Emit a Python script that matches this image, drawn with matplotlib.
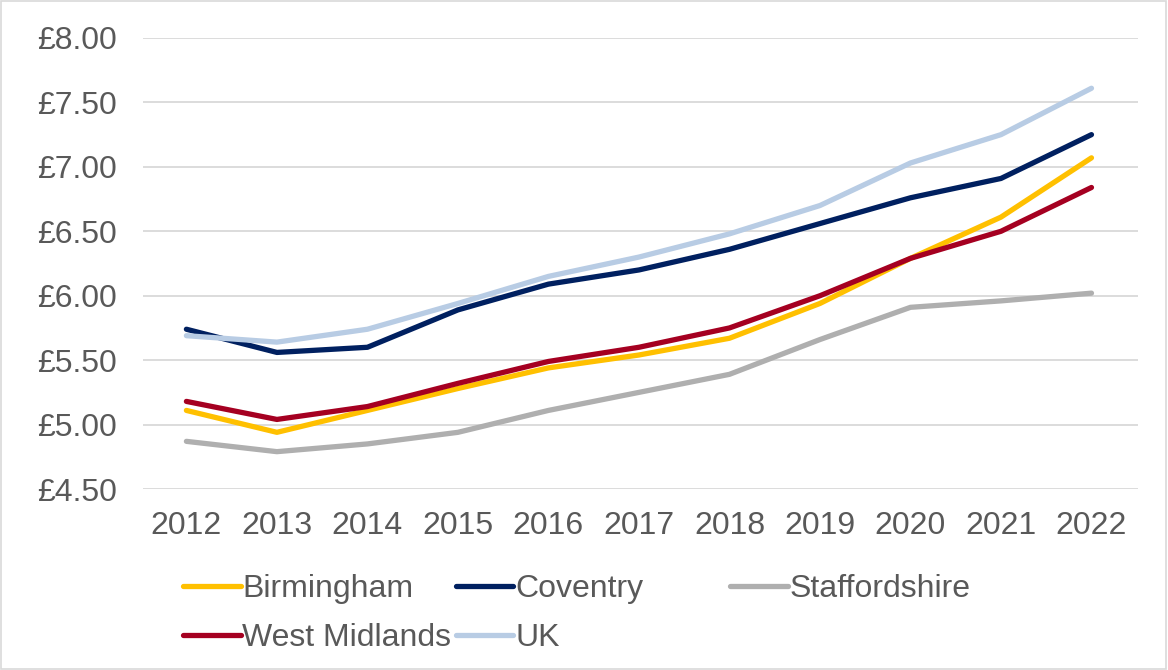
import matplotlib.pyplot as plt
from matplotlib.patches import Rectangle
from matplotlib.ticker import FuncFormatter

plt.rcParams['font.family'] = ['Liberation Sans', 'DejaVu Sans']

years = [2012, 2013, 2014, 2015, 2016, 2017, 2018, 2019, 2020, 2021, 2022]

birmingham = [5.11, 4.94, 5.11, 5.28, 5.44, 5.54, 5.67, 5.94, 6.29, 6.61, 7.07]
coventry = [5.74, 5.56, 5.60, 5.89, 6.09, 6.20, 6.36, 6.56, 6.76, 6.91, 7.25]
staffordshire = [4.87, 4.79, 4.85, 4.94, 5.11, 5.25, 5.39, 5.66, 5.91, 5.96, 6.02]
west_midlands = [5.18, 5.04, 5.14, 5.32, 5.49, 5.60, 5.75, 6.00, 6.29, 6.50, 6.84]
uk = [5.69, 5.64, 5.74, 5.94, 6.15, 6.30, 6.48, 6.70, 7.03, 7.25, 7.61]

grey_text = '#595959'
fs = 23

fig = plt.figure(figsize=(11.68, 6.70), dpi=100)
ax = fig.add_axes([0.1224, 0.2701, 0.8516, 0.6732])

lw = 3.8
l_b, = ax.plot(years, birmingham, color='#FFC000', lw=lw, solid_capstyle='round', label='Birmingham')
l_c, = ax.plot(years, coventry, color='#002060', lw=lw, solid_capstyle='round', label='Coventry')
l_s, = ax.plot(years, staffordshire, color='#AFAFAF', lw=lw, solid_capstyle='round', label='Staffordshire')
l_w, = ax.plot(years, west_midlands, color='#A50021', lw=lw, solid_capstyle='round', label='West Midlands')
l_u, = ax.plot(years, uk, color='#B8CCE4', lw=lw, solid_capstyle='round', label='UK')

ax.set_xlim(2011.52, 2022.51)
ax.set_ylim(4.5, 8.0)
ax.set_yticks([4.5, 5.0, 5.5, 6.0, 6.5, 7.0, 7.5, 8.0])
ax.yaxis.set_major_formatter(FuncFormatter(lambda v, p: '£{:.2f}'.format(v)))
ax.set_xticks(years)
ax.grid(axis='y', color='#D9D9D9', lw=1.3, zorder=0)
ax.set_axisbelow(True)
for s in ax.spines.values():
    s.set_visible(False)
ax.tick_params(axis='both', length=0, labelsize=fs, colors=grey_text)
ax.tick_params(axis='y', pad=19)
ax.tick_params(axis='x', pad=16)

# Excel-style legend: fixed column positions
cols = [([l_b, l_w], 0.1567), ([l_c, l_u], 0.3904), ([l_s], 0.625)]
for handles, x in cols:
    leg = fig.legend(handles=handles, loc='upper left', bbox_to_anchor=(x, 0.143),
                     bbox_transform=fig.transFigure,
                     frameon=False, fontsize=fs, handlelength=1.8, handletextpad=0.05,
                     labelspacing=0.58, borderaxespad=0, borderpad=0)
    for t in leg.get_texts():
        t.set_color(grey_text)

fig.patches.append(Rectangle((0.0005, 0.001), 0.998, 0.997, transform=fig.transFigure,
                             fill=False, edgecolor='#D9D9D9', lw=1.2))

fig.savefig('out.png', dpi=100)
